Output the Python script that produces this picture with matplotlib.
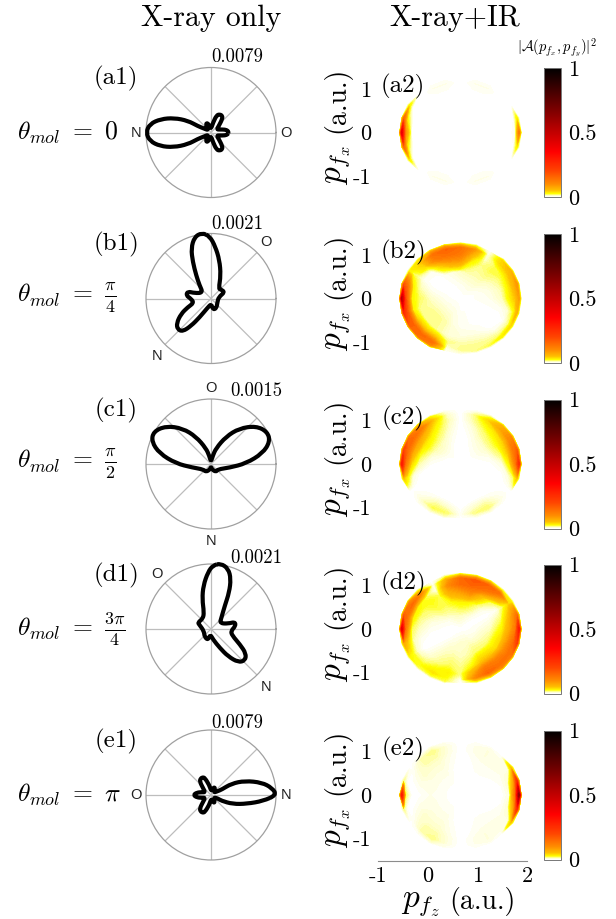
import numpy as np
import matplotlib
matplotlib.use('Agg')
import matplotlib.pyplot as plt
from matplotlib.colors import LinearSegmentedColormap
from matplotlib.cm import ScalarMappable
from matplotlib.patches import PathPatch
from matplotlib.path import Path

plt.rcParams['font.family'] = ['cmr10', 'DejaVu Serif']
plt.rcParams['mathtext.fontset'] = 'cm'
plt.rcParams['axes.formatter.use_mathtext'] = True
plt.rcParams['axes.unicode_minus'] = False

W, H = 616, 919

# polar curves: angle in degrees, radius / outer circle
a1_t = [0, 6, 12, 19, 28, 40, 50, 56, 64, 72, 78, 88, 100, 108, 115, 123, 135, 145, 150, 154, 153, 158.5, 165, 172, 180,
        188, 195, 201.5, 207, 206, 210, 215, 225, 237, 245, 252, 260, 272, 282, 288, 296, 304, 310, 320, 332, 341, 348, 354]
a1_r = [.27, .26, .22, .14, .10, .155, .27, .31, .31, .28, .155, .06, .09, .14, .16, .14, .07, .07, .12, .22, .40, .61, .80, .95, 1.0,
        .95, .81, .62, .40, .22, .12, .07, .07, .14, .16, .14, .09, .06, .155, .28, .31, .31, .27, .155, .10, .14, .22, .26]
b1_t = [97.9, 105, 111.6, 116.4, 122.5, 131, 144.7, 161.9, 163, 173, 181, 194.3, 200.6, 207.3, 215.6, 222.6, 229.4, 234, 238.7,
        250.9, 273, 280, 299, 330, 370, 384.9, 403, 411.6, 427.2, 437.6, 445.2, 451.2]
b1_r = [1.02, .98, .83, .63, .424, .268, .152, .267, .374, .386, .306, .273, .382, .519, .65, .70, .669, .519, .34,
        .143, .083, .174, .172, .114, .12, .234, .205, .19, .388, .605, .80, .96]
c1_t = [78, 72.3, 61.2, 51.5, 40.2, 29.7, 20.7, 11.7, 1, -11.3, -39, -58, -80, -90, -100, -122, -145, -169, -181, -191.7,
        -200.6, -209.3, -220.2, -231.5, -241.2, -252.3, -258.2, -270]
c1_r = [.126, .253, .48, .70, .906, 1.0, .97, .81, .54, .288, .131, .145, .083, .04, .083, .145, .145, .288, .54, .81,
        .975, 1.017, .906, .70, .48, .253, .126, .03]
d1_t = [81.5, 74, 68.4, 63.6, 59.3, 47.6, 33, 17.4, 16.5, 7, -6, -17, -28.1, -35, -42.6, -50.7, -58, -65, -79, -97, -105,
        -130, -164, -200, -206, -232.3, -247, -253.7, -260, -267, -271.8]
d1_r = [1.02, .965, .83, .63, .416, .238, .161, .277, .384, .381, .307, .341, .505, .658, .715, .663, .496, .32, .164, .083, .177,
        .155, .113, .19, .225, .203, .276, .48, .679, .877, .98]
e1_t = [0, 6.6, 13.8, 22.6, 29, 27, 30, 36, 45, 55, 65, 75, 87, 100, 110, 115, 122, 130, 140, 155, 162, 170, 180,
        190, 198, 205, 220, 230, 238, 245, 250, 260, 272, 285, 293, 300, 315, 325, 333, 331, 337.4, 346.2, 353.4]
e1_r = [1.01, .945, .805, .567, .362, .18, .12, .07, .07, .10, .135, .10, .06, .155, .28, .30, .30, .27, .155, .10, .14, .22, .27,
        .22, .14, .10, .155, .27, .30, .30, .28, .155, .06, .10, .135, .10, .07, .07, .12, .18, .362, .567, .805]

# disk maps: one row per ring, one value every 15 degrees from +x going ccw
rings = [.25, .5, .7, .82, .92, .98]
a2_vals = [
    [0] * 24,
    [0] * 24,
    [0, 0, 0, 0, .001, .001, 0, .001, .001, 0, 0, 0, 0, 0, 0, 0, .001, .001, 0, .001, .001, 0, 0, 0],
    [0, 0, 0, 0, .002, .002, 0, .002, .002, 0, 0, 0, .002, 0, 0, 0, .002, .002, 0, .002, .002, 0, 0, 0],
    [.005, .002, 0, 0, .004, .004, 0, .004, .004, 0, 0, .03, .10, .03, 0, 0, .004, .004, 0, .004, .004, 0, 0, .002],
    [.12, .03, 0, 0, .002, .002, 0, .002, .002, 0, .03, .15, .40, .15, .03, 0, .002, .002, 0, .002, .002, 0, 0, .03],
]
b2_vals = [
    [.002, .002, .003, .005, .005, .004, .003, .002, .001, 0, 0, .002, .003, .004, .005, .005, .005, .004, .002, .002, .001, 0, 0, .001],
    [.004, .005, .008, .012, .012, .012, .010, .006, .003, 0, 0, .004, .009, .012, .014, .014, .012, .006, .003, .002, .001, 0, 0, .002],
    [.010, .012, .015, .02, .015, .03, .09, .09, .05, .004, .003, .012, .02, .015, .015, .015, .012, .006, .006, .006, .004, 0, 0, .003],
    [.03, .03, .025, .02, .008, .06, .13, .14, .12, .04, .015, .03, .03, .03, .05, .05, .05, .015, .012, .012, .010, .004, .002, .008],
    [.05, .06, .05, .04, .003, .09, .14, .16, .14, .05, .02, .14, .20, .18, .16, .15, .14, .006, .015, .015, .015, .015, .015, .025],
    [.08, .09, .06, .04, .001, .03, .05, .08, .08, .04, .03, .18, .50, .25, .16, .14, .10, .002, .008, .015, .02, .03, .04, .06],
]
c2_vals = [
    [0, .001, .002, .002, .001, 0, 0, 0, .002, .003, .002, .001, 0, 0, 0, 0, 0, 0, 0, 0, 0, 0, 0, 0],
    [.001, .004, .008, .008, .006, .002, 0, .003, .008, .012, .012, .006, .002, 0, 0, 0, 0, 0, 0, 0, 0, 0, 0, 0],
    [.006, .018, .025, .022, .015, .006, 0, .008, .02, .03, .035, .025, .012, .001, 0, .001, .002, .001, 0, .001, .002, .001, 0, .001],
    [.03, .05, .045, .035, .025, .012, 0, .012, .03, .06, .08, .07, .04, .006, 0, .004, .012, .008, .001, .008, .012, .004, 0, .006],
    [.12, .13, .10, .07, .04, .015, 0, .01, .05, .12, .15, .15, .13, .03, 0, .008, .02, .018, .002, .015, .018, .006, 0, .02],
    [.25, .16, .10, .06, .02, .005, 0, .005, .03, .08, .14, .20, .30, .05, 0, .004, .01, .01, .001, .006, .008, .003, 0, .05],
]
d2_vals = [
    [.003, .002, 0, .002, .005, .008, .010, .010, .008, .005, .003, .002, .001, 0, 0, .002, .005, .006, .008, .008, .008, .006, .005, .004],
    [.010, .005, 0, .005, .018, .028, .030, .025, .020, .020, .012, .006, .003, 0, 0, .005, .010, .012, .010, .012, .018, .018, .016, .014],
    [.03, .018, .004, .02, .06, .11, .09, .07, .02, .025, .02, .015, .010, .004, 0, .008, .015, .02, .015, .025, .05, .05, .04, .04],
    [.07, .05, .02, .08, .14, .16, .15, .10, .004, .02, .03, .03, .02, .012, .008, .015, .025, .03, .015, .06, .13, .12, .10, .09],
    [.12, .10, .04, .14, .16, .18, .15, .07, .001, .10, .15, .14, .13, .05, .025, .025, .035, .025, .002, .10, .16, .14, .14, .15],
    [.30, .14, .03, .03, .06, .06, .05, .02, 0, .03, .10, .16, .40, .07, .03, .02, .02, .02, 0, .03, .06, .10, .12, .22],
]
e2_vals = [
    [0, 0, 0, 0, 0, 0, 0, .001, .002, .002, .002, .002, .002, .002, .002, .002, .002, .001, 0, 0, 0, 0, 0, 0],
    [.001, .001, .001, .002, .002, .001, 0, .002, .005, .005, .005, .005, .004, .005, .005, .005, .005, .002, 0, .001, .002, .002, .001, .001],
    [.001, .002, .003, .004, .004, .002, 0, .004, .008, .008, .008, .004, .001, .004, .008, .008, .008, .004, 0, .002, .004, .004, .003, .002],
    [.006, .008, .005, .005, .006, .004, 0, .006, .012, .012, .006, .001, .001, .001, .006, .012, .012, .006, 0, .004, .006, .005, .005, .008],
    [.14, .08, .004, .004, .006, .004, 0, .006, .015, .012, .002, .001, .02, .001, .002, .012, .015, .006, 0, .004, .006, .004, .004, .08],
    [.60, .25, .05, .002, .004, .002, 0, .003, .008, .004, .001, .015, .30, .015, .001, .004, .008, .003, 0, .002, .004, .002, .05, .25],
]

center_y = [132.5, 298.5, 464, 629, 795]
theta_labels = [r'$\theta_{mol}\ =\ 0$', r'$\theta_{mol}\ =\ \frac{\pi}{4}$', r'$\theta_{mol}\ =\ \frac{\pi}{2}$',
                r'$\theta_{mol}\ =\ \frac{3\pi}{4}$', r'$\theta_{mol}\ =\ \pi$']
left_tags = ['(a1)', '(b1)', '(c1)', '(d1)', '(e1)']
right_tags = ['(a2)', '(b2)', '(c2)', '(d2)', '(e2)']
peak_vals = ['0.0079', '0.0021', '0.0015', '0.0021', '0.0079']
peak_xy = [(237, 57), (237, 224), (256, 391), (256, 558), (237, 723)]
o_xy = [(286, 133), (266, 242), (211, 388), (157, 574), (136, 795)]
n_xy = [(136, 133), (157, 356), (211, 541), (266, 687), (286, 795)]

curves = [(a1_t, a1_r), (b1_t, b1_r), (c1_t, c1_r), (d1_t, d1_r), (e1_t, e1_r)]
maps = [a2_vals, b2_vals, c2_vals, d2_vals, e2_vals]

cmap = LinearSegmentedColormap.from_list('xr', [
    (0, '#ffffff'), (.01, '#ffffc0'), (.025, '#ffff00'), (.05, '#ffc000'), (.1, '#ff8c00'),
    (.2, '#ff4600'), (.35, '#ff0000'), (.66, '#820000'), (1, '#000000')], N=512)


def px_axes(fig, x0, y0, x1, y1, **kw):
    return fig.add_axes([x0 / W, 1 - y1 / H, (x1 - x0) / W, (y1 - y0) / H], **kw)


def px_text(fig, x, y, s, **kw):
    kw.setdefault('ha', 'center')
    kw.setdefault('va', 'center')
    return fig.text(x / W, 1 - y / H, s, **kw)


def draw_curve(ax, t, r):
    # read points used as control points of a closed quadratic path, so the lobes come out round
    t = np.radians(t)
    r = np.array(r)
    x, y = r * np.cos(t), r * np.sin(t)
    mx, my = (x + np.roll(x, -1)) / 2, (y + np.roll(y, -1)) / 2
    verts = [(np.arctan2(my[-1], mx[-1]), np.hypot(mx[-1], my[-1]))]
    codes = [Path.MOVETO]
    for k in range(len(t)):
        verts.append((t[k], r[k]))
        verts.append((np.arctan2(my[k], mx[k]), np.hypot(mx[k], my[k])))
        codes += [Path.CURVE3, Path.CURVE3]
    ax.add_patch(PathPatch(Path(verts, codes), fc='none', ec='k', lw=3.0, joinstyle='round',
                           clip_on=False, zorder=5))
    ax.set_ylim(0, 1)
    ax.set_rticks([])
    ax.set_thetagrids(range(0, 360, 45), labels=[])
    ax.grid(True, color='#bdbdbd', lw=0.9)
    ax.spines['polar'].set_color('#a0a0a0')
    ax.spines['polar'].set_linewidth(0.9)
    ax.tick_params(length=0)


def draw_map(ax, vals):
    ang = np.radians(np.arange(0, 375, 15))
    rr = np.array([0] + rings + [1.02])
    vals = np.array(vals)
    z = np.vstack([np.full(24, vals[0].min()), vals, np.zeros(24)])
    z = np.hstack([z, z[:, :1]])
    x = 0.66 + 1.205 * np.outer(rr, np.cos(ang))
    y = 1.26 * np.outer(rr, np.sin(ang))
    levels = np.geomspace(.0008, 1, 90)
    ax.contourf(x, y, z, levels=levels, cmap=cmap, vmin=0, vmax=1, antialiased=False)
    ax.set_xlim(-1, 2)
    ax.set_ylim(-1.5, 1.5)
    ax.set_yticks([-1, 0, 1])
    ax.set_yticklabels(['-1', '0', '1'], fontsize=16)
    ax.tick_params(axis='y', length=0, pad=5)
    for s in ax.spines.values():
        s.set_visible(False)
    ax.patch.set_alpha(0)


fig = plt.figure(figsize=(W / 100, H / 100), dpi=100)

px_text(fig, 211, 18, 'X-ray only', fontsize=21.5)
px_text(fig, 455, 18, 'X-ray+IR', fontsize=21.5)
px_text(fig, 557, 48, r'$|\mathcal{A}(p_{f_x},p_{f_y})|^2$', fontsize=10.5)

for i, cy in enumerate(center_y):
    ax = px_axes(fig, 211 - 65, cy - 65, 211 + 65, cy + 65, projection='polar')
    draw_curve(ax, *curves[i])

    px_text(fig, 116, cy - 54, left_tags[i], fontsize=18)
    px_text(fig, 17, cy, theta_labels[i], fontsize=18.5, ha='left')
    px_text(fig, peak_xy[i][0], peak_xy[i][1], peak_vals[i], fontsize=13.5)
    px_text(fig, o_xy[i][0], o_xy[i][1], 'O', fontsize=10.5, family='Liberation Sans', color='#222222')
    px_text(fig, n_xy[i][0], n_xy[i][1], 'N', fontsize=10.5, family='Liberation Sans', color='#222222')

    hx = px_axes(fig, 378, cy - 65.5, 527, cy + 65.5)
    draw_map(hx, maps[i])
    if i == 4:
        hx.spines['bottom'].set_visible(True)
        hx.spines['bottom'].set_color('#8c8c8c')
        hx.set_xticks([-1, 0, 1, 2])
        hx.set_xticklabels(['-1', '0', '1', '2'], fontsize=16)
        hx.tick_params(axis='x', length=0, pad=4)
    else:
        hx.set_xticks([])

    px_text(fig, 403, cy - 46, right_tags[i], fontsize=18)
    px_text(fig, 337, cy + 33, r'$p_{f_x}$', fontsize=24, rotation=90)
    px_text(fig, 337, cy - 33, '(a.u.)', fontsize=20, rotation=90)

    cx = px_axes(fig, 544, cy - 64.5, 561, cy + 64.5)
    cb = fig.colorbar(ScalarMappable(cmap=cmap), cax=cx)
    cb.set_ticks([0, .5, 1])
    cb.set_ticklabels(['0', '0.5', '1'], fontsize=16)
    cb.ax.tick_params(length=0, pad=5)
    cb.outline.set_edgecolor('#777777')
    cb.outline.set_linewidth(0.7)

px_text(fig, 420, 903, r'$p_{f_z}$', fontsize=24)
px_text(fig, 482, 902, '(a.u.)', fontsize=20)

fig.savefig('out.png', dpi=100)
